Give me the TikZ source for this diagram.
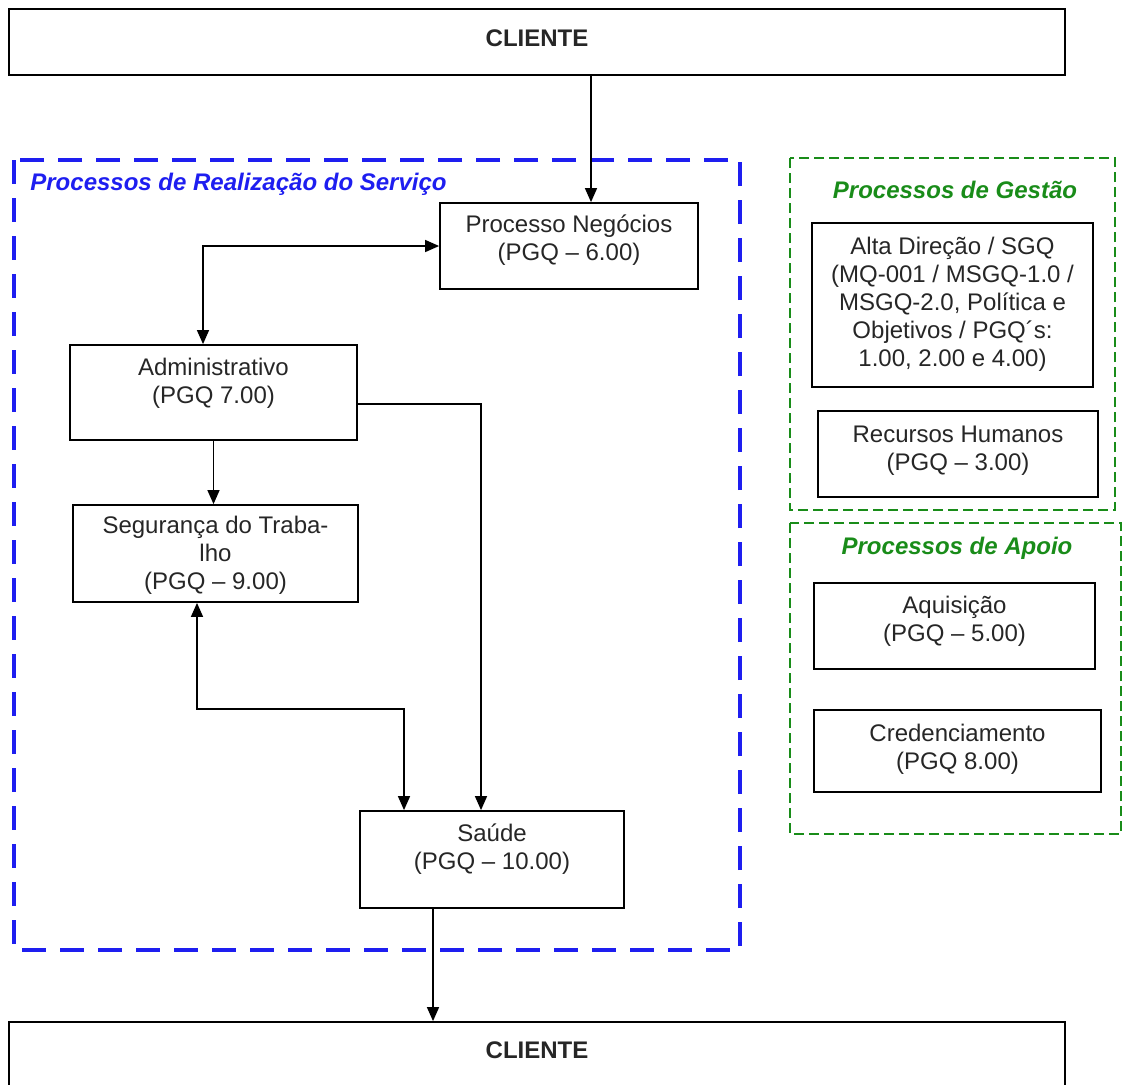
\documentclass[tikz,border=0pt]{standalone}
\usepackage{fontspec}
\setmainfont{Liberation Sans}
\usetikzlibrary{arrows.meta}

\definecolor{azulquadro}{RGB}{30,30,240}
\definecolor{verdequadro}{RGB}{25,140,25}

\tikzset{
	caixa/.style={draw, line width=0.9pt, inner sep=0pt},
	rotulo/.style={align=center, inner sep=0pt, text=black!85},
	seta/.style={line width=0.7pt, -{Triangle[length=7pt,width=6pt]}},
	setadupla/.style={line width=0.7pt, {Triangle[length=7pt,width=6pt]}-{Triangle[length=7pt,width=6pt]}},
	quadroazul/.style={draw=azulquadro, line width=1.6pt, dash pattern=on 12pt off 7pt},
	quadroverde/.style={draw=verdequadro, line width=0.8pt, dash pattern=on 5pt off 2.5pt},
	titulo/.style={font=\fontsize{12}{14}\selectfont\bfseries\itshape, inner sep=0pt},
}

\begin{document}
\begin{tikzpicture}[x=0.5pt, y=-0.5pt, font=\fontsize{12}{14}\selectfont]
	\useasboundingbox (0,0) rectangle (1123,1084);

	%% quadros
	\draw[quadroazul] (14,160) rectangle (740,950);
	\draw[quadroverde] (790,158) rectangle (1115,510);
	\draw[quadroverde] (790,523) rectangle (1121,834);

	\node[titulo, text=azulquadro, anchor=west] (tit-real) at (30,184) {Processos de Realização do Serviço};
	\node[titulo, text=verdequadro] (tit-gestao) at (955,190) {Processos de Gestão};
	\node[titulo, text=verdequadro] (tit-apoio) at (957,548) {Processos de Apoio};

	%% cliente
	\node[caixa, minimum width=528pt, minimum height=33pt,
		label={[rotulo, font=\fontsize{12}{14}\selectfont\bfseries, yshift=2pt]center:{CLIENTE}}]
		(cliente1) at (537,42) {};
	\node[caixa, minimum width=528pt, minimum height=44pt,
		label={[rotulo, font=\fontsize{12}{14}\selectfont\bfseries, yshift=8pt]center:{CLIENTE}}]
		(cliente2) at (537,1066) {};

	%% realizacao
	\node[caixa, minimum width=129pt, minimum height=43pt,
		label={[rotulo, yshift=3pt]center:{Processo Negócios\\(PGQ – 6.00)}}]
		(negocios) at (569,246) {};
	\node[caixa, minimum width=143.5pt, minimum height=47.5pt,
		label={[rotulo, yshift=4.75pt]center:{Administrativo\\(PGQ 7.00)}}]
		(admin) at (213.5,392.5) {};
	\node[caixa, minimum width=142.5pt, minimum height=48.5pt,
		label={[rotulo, yshift=-1pt]center:{Segurança do Traba-\\lho\\(PGQ – 9.00)}}]
		(seguranca) at (215.5,553.5) {};
	\node[caixa, minimum width=132pt, minimum height=48.5pt,
		label={[rotulo, yshift=5pt]center:{Saúde\\(PGQ – 10.00)}}]
		(saude) at (492,859.5) {};

	%% gestao e apoio
	\node[caixa, minimum width=140.5pt, minimum height=82pt,
		label={[rotulo, yshift=0.5pt]center:{Alta Direção / SGQ\\(MQ-001 / MSGQ-1.0 /\\MSGQ-2.0, Política e\\Objetivos / PGQ´s:\\1.00, 2.00 e 4.00)}}]
		(alta) at (952.5,305) {};
	\node[caixa, minimum width=140pt, minimum height=43pt,
		label={[rotulo, yshift=1.5pt]center:{Recursos Humanos\\(PGQ – 3.00)}}]
		(rh) at (958,454) {};
	\node[caixa, minimum width=140.5pt, minimum height=43pt,
		label={[rotulo, yshift=2.5pt]center:{Aquisição\\(PGQ – 5.00)}}]
		(aquisicao) at (954.5,626) {};
	\node[caixa, minimum width=143.5pt, minimum height=41pt,
		label={[rotulo, yshift=1pt]center:{Credenciamento\\(PGQ 8.00)}}]
		(credenc) at (957.5,751) {};

	%% ligacoes
	\draw[seta] ([xshift=11pt]negocios.north |- cliente1.south) -- ([xshift=11pt]negocios.north);
	\draw[setadupla] ([xshift=-5.25pt]admin.north) |- (negocios.west);
	\draw[seta] (admin.south) -- (admin.south |- seguranca.north);
	\draw[seta] ([yshift=-5.75pt]admin.east) -| ([xshift=-5.5pt]saude.north);
	\draw[setadupla] ([xshift=-9.25pt]seguranca.south) -- ++(0,-53pt) -| ([xshift=-44pt]saude.north);
	\draw[seta] ([xshift=-29.5pt]saude.south) -- ([xshift=-29.5pt]saude.south |- cliente2.north);
\end{tikzpicture}
\end{document}
